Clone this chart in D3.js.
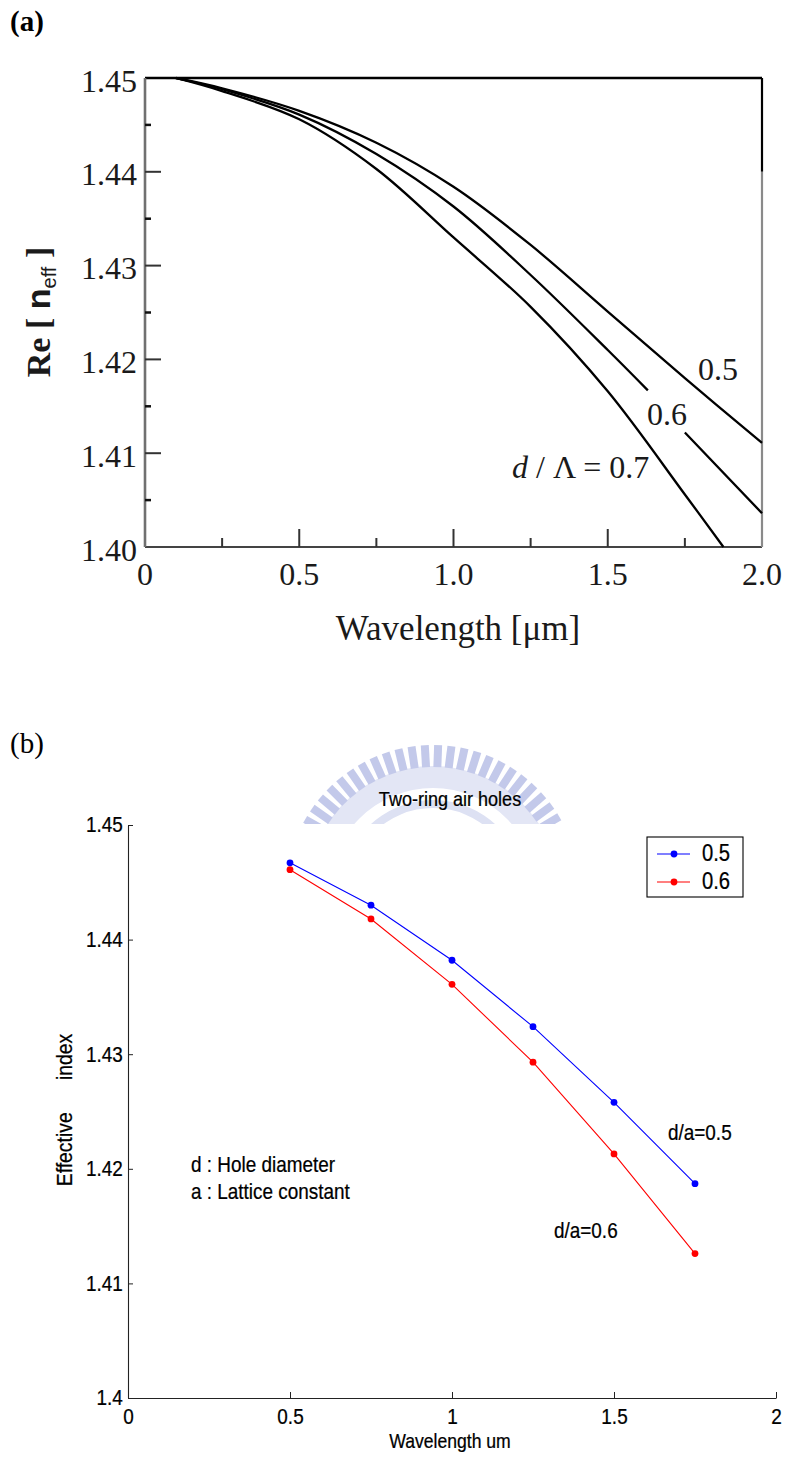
<!DOCTYPE html>
<html><head><meta charset="utf-8">
<script src="https://cdn.jsdelivr.net/npm/d3@7"></script>
<style>body{margin:0;background:#fff}svg{display:block}</style>
</head><body>
<script>
// ---- Panel (a): Re[n_eff] versus wavelength, d/Λ = 0.5, 0.6, 0.7 ----
const waveA05 = [0.1, 0.25, 0.5, 0.75, 1.0, 1.25, 1.5, 1.75, 2.0];
const neffA05 = [1.4500, 1.4489, 1.4465, 1.4431, 1.4384, 1.4322, 1.4251, 1.4180, 1.4111];
// null leaves room for the "0.6" label on that curve
const waveA06 = [0.1, 0.25, 0.5, 0.75, 1.0, 1.25, 1.5, 1.63, 1.69, 1.75, 2.0];
const neffA06 = [1.4500, 1.4488, 1.4461, 1.4419, 1.4363, 1.4290, 1.4210, 1.4167, null, 1.4122, 1.4036];
const waveA07 = [0.1, 0.25, 0.5, 0.75, 1.0, 1.25, 1.5, 1.75, 1.875];
const neffA07 = [1.4500, 1.4486, 1.4456, 1.4403, 1.4330, 1.4256, 1.4166, 1.4056, 1.4000];
const yTicksA = [1.40, 1.41, 1.42, 1.43, 1.44, 1.45];
const yMinorA = [1.405, 1.415, 1.425, 1.435, 1.445];
const xTicksA = [0, 0.5, 1.0, 1.5, 2.0];
const xMinorA = [0.25, 0.75, 1.25, 1.75];

// ---- Panel (b): two-ring air holes ----
const waveB = [0.5, 0.75, 1.0, 1.25, 1.5, 1.75];
const neffB05 = [1.4467, 1.4430, 1.4382, 1.4324, 1.4258, 1.4187];
const neffB06 = [1.4461, 1.4418, 1.4361, 1.4293, 1.4213, 1.4126];
const seriesB = [
  {name: "0.5", values: neffB05, color: "#0000ff"},
  {name: "0.6", values: neffB06, color: "#ff0000"}
];
const yTicksB = [1.40, 1.41, 1.42, 1.43, 1.44, 1.45];
const xTicksB = [0, 0.5, 1, 1.5, 2];

const W = 788, H = 1459;
const svg = d3.select("body").append("svg").attr("width", W).attr("height", H)
  .style("background", "#fff");

const serif = "'Liberation Serif','Times New Roman',serif";
const sans = "'Liberation Sans',Arial,Helvetica,sans-serif";

// =================== Panel (a) ===================
const gA = svg.append("g");
const xA = d3.scaleLinear().domain([0, 2]).range([145, 762]);
const yA = d3.scaleLinear().domain([1.40, 1.45]).range([547, 78]);

gA.append("text").attr("x", 10).attr("y", 31)
  .attr("font-family", serif).attr("font-weight", "bold").attr("font-size", 29)
  .text("(a)");

// frame
const [ax0, ax1] = xA.range();
const [ay1, ay0] = yA.range();
gA.append("line").attr("x1", ax0).attr("x2", ax1).attr("y1", ay0).attr("y2", ay0)
  .attr("stroke", "#000").attr("stroke-width", 2.5);
gA.append("line").attr("x1", ax0).attr("x2", ax1).attr("y1", ay1).attr("y2", ay1)
  .attr("stroke", "#444").attr("stroke-width", 2.2);
gA.append("line").attr("x1", ax0).attr("x2", ax0).attr("y1", ay0).attr("y2", ay1)
  .attr("stroke", "#707070").attr("stroke-width", 2.6);
gA.append("line").attr("x1", ax1).attr("x2", ax1).attr("y1", ay0).attr("y2", yA(1.44))
  .attr("stroke", "#000").attr("stroke-width", 2.2);
gA.append("line").attr("x1", ax1).attr("x2", ax1).attr("y1", yA(1.44)).attr("y2", ay1)
  .attr("stroke", "#8a8a8a").attr("stroke-width", 2.2);

// ticks
gA.selectAll(".ymaj").data(yTicksA.slice(1, -1)).join("line")
  .attr("x1", ax0).attr("x2", ax0 + 16).attr("y1", d => yA(d)).attr("y2", d => yA(d))
  .attr("stroke", "#333").attr("stroke-width", 2);
gA.selectAll(".ymin").data(yMinorA).join("line")
  .attr("x1", ax0).attr("x2", ax0 + 6).attr("y1", d => yA(d)).attr("y2", d => yA(d))
  .attr("stroke", "#111").attr("stroke-width", 2.5);
gA.selectAll(".xmaj").data(xTicksA.slice(1, -1)).join("line")
  .attr("x1", d => xA(d)).attr("x2", d => xA(d)).attr("y1", ay1).attr("y2", ay1 - 18)
  .attr("stroke", "#333").attr("stroke-width", 2);
gA.selectAll(".xmin").data(xMinorA).join("line")
  .attr("x1", d => xA(d)).attr("x2", d => xA(d)).attr("y1", ay1).attr("y2", ay1 - 9)
  .attr("stroke", "#333").attr("stroke-width", 2);

// tick labels
gA.selectAll(".ylab").data(yTicksA).join("text")
  .attr("x", ax0 - 8).attr("y", d => yA(d) + 13.5)
  .attr("text-anchor", "end").attr("font-family", serif).attr("font-size", 32)
  .attr("fill", "#1a1a1a").text(d => d3.format(".2f")(d));
gA.selectAll(".xlab").data(xTicksA).join("text")
  .attr("x", d => xA(d)).attr("y", 585)
  .attr("text-anchor", "middle").attr("font-family", serif).attr("font-size", 32)
  .attr("fill", "#1a1a1a").text(d => d === 0 ? "0" : d3.format(".1f")(d));

// axis titles
gA.append("text").attr("x", 458).attr("y", 640).attr("text-anchor", "middle")
  .attr("font-family", serif).attr("font-size", 35).attr("fill", "#1a1a1a")
  .text("Wavelength [\u03bcm]");
const yt = gA.append("text").attr("transform", "translate(50,312) rotate(-90)")
  .attr("text-anchor", "middle").attr("font-family", serif).attr("font-weight", "bold")
  .attr("font-size", 34).attr("fill", "#1a1a1a");
yt.append("tspan").text("Re [ ");
yt.append("tspan").attr("font-family", sans).text("n");
yt.append("tspan").attr("font-family", sans).attr("font-weight", "normal")
  .attr("font-size", 20).attr("dy", 6).text("eff");
yt.append("tspan").attr("dy", -6).text(" ]");

// curves
const lineA = d3.line().defined(d => d[1] != null)
  .x(d => xA(d[0])).y(d => yA(d[1])).curve(d3.curveCatmullRom.alpha(0.5));
[[waveA05, neffA05], [waveA06, neffA06], [waveA07, neffA07]].forEach(([w, n]) => {
  gA.append("path").datum(d3.zip(w, n)).attr("d", lineA)
    .attr("fill", "none").attr("stroke", "#000").attr("stroke-width", 2.3);
});

// curve labels
gA.append("text").attr("x", 698).attr("y", 380).attr("font-family", serif)
  .attr("font-size", 32).attr("fill", "#1a1a1a").text("0.5");
gA.append("text").attr("x", 647).attr("y", 425).attr("font-family", serif)
  .attr("font-size", 32).attr("fill", "#1a1a1a").text("0.6");
const l7 = gA.append("text").attr("x", 512).attr("y", 478).attr("font-family", serif)
  .attr("font-size", 32).attr("fill", "#1a1a1a");
l7.append("tspan").attr("font-style", "italic").text("d");
l7.append("tspan").text(" / \u039b = 0.7");

// =================== Panel (b) ===================
const gB = svg.append("g");
const xB = d3.scaleLinear().domain([0, 2]).range([128, 776]);
const yB = d3.scaleLinear().domain([1.40, 1.45]).range([1398, 825]);

gB.append("text").attr("x", 10).attr("y", 753)
  .attr("font-family", serif).attr("font-size", 29).text("(b)");

// faint emblem behind the title, cut off by the axes area
const defs = svg.append("defs");
defs.append("clipPath").attr("id", "emblemClip").append("rect")
  .attr("x", 0).attr("y", 700).attr("width", W).attr("height", yB(1.45) - 701);
const emb = gB.append("g").attr("clip-path", "url(#emblemClip)")
  .append("g").attr("transform", "translate(433,892)");
emb.append("path")
  .attr("d", d3.arc().innerRadius(104).outerRadius(126).startAngle(0).endAngle(2 * Math.PI)())
  .attr("fill", "#e3e6f5");
const teeth = d3.range(-180, 180, 5.2);
emb.selectAll(".tooth").data(teeth).join("rect")
  .attr("x", -4).attr("y", -147).attr("width", 8).attr("height", 22)
  .attr("transform", d => `rotate(${d})`)
  .attr("fill", "#c3c9ea");
emb.append("path")
  .attr("d", d3.arc().innerRadius(84).outerRadius(92).startAngle(0).endAngle(2 * Math.PI)())
  .attr("fill", "#dde1f3");

// sans text with a slightly narrow, tall face
const SX = 0.88;
function label(g, x, y, str, size, anchor) {
  return g.append("text").attr("transform", `translate(${x},${y}) scale(${SX},1)`)
    .attr("text-anchor", anchor || "start").attr("font-family", sans)
    .attr("font-size", size).attr("fill", "#000")
    .attr("stroke", "#000").attr("stroke-width", 0.25).text(str);
}

label(gB, 450, 806, "Two-ring air holes", 20.5, "middle");

// axes
const axLeft = d3.axisLeft(yB).tickValues(yTicksB)
  .tickFormat(d => d3.format("~g")(+d.toFixed(2)))
  .tickSizeInner(-5).tickSizeOuter(0).tickPadding(6);
const axBottom = d3.axisBottom(xB).tickValues(xTicksB)
  .tickFormat(d => d3.format("~g")(d))
  .tickSizeInner(-6).tickSizeOuter(0).tickPadding(11);
const gl = gB.append("g").attr("transform", `translate(${xB(0)},0)`).call(axLeft);
const gb = gB.append("g").attr("transform", `translate(0,${yB(1.40)})`).call(axBottom);
[gl, gb].forEach(g => {
  g.select(".domain").attr("stroke", "#222").attr("stroke-width", 1.1);
  g.selectAll(".tick line").attr("stroke", "#222");
  g.selectAll(".tick text").attr("font-family", sans).attr("font-size", 21.5)
    .attr("fill", "#000").attr("stroke", "#000").attr("stroke-width", 0.25)
    .attr("transform", `scale(${SX},1)`);
});

label(gB, 450, 1448, "Wavelength um", 20, "middle");
gB.append("text").attr("transform", `translate(72,1110) rotate(-90) scale(${SX},1)`)
  .attr("text-anchor", "middle").attr("font-family", sans).attr("font-size", 22)
  .attr("stroke", "#000").attr("stroke-width", 0.25)
  .style("white-space", "pre").text("Effective      index");

// series
const lineB = d3.line().x(d => xB(d[0])).y(d => yB(d[1]));
seriesB.forEach(s => {
  const pts = d3.zip(waveB, s.values);
  gB.append("path").datum(pts).attr("d", lineB)
    .attr("fill", "none").attr("stroke", s.color).attr("stroke-width", 1.1);
  gB.selectAll(null).data(pts).join("circle")
    .attr("cx", d => xB(d[0])).attr("cy", d => yB(d[1])).attr("r", 3.4)
    .attr("fill", s.color);
});

// annotations
label(gB, 191, 1172, "d : Hole diameter", 21.5);
label(gB, 191, 1199, "a : Lattice constant", 21.5);
label(gB, 668, 1140, "d/a=0.5", 21.5);
label(gB, 554, 1238, "d/a=0.6", 21.5);

// legend
const lg = gB.append("g").attr("transform", "translate(647,837)");
lg.append("rect").attr("width", 96).attr("height", 60)
  .attr("fill", "#fff").attr("stroke", "#000").attr("stroke-width", 1.1);
seriesB.forEach((s, i) => {
  const y = 17 + i * 28;
  lg.append("line").attr("x1", 10).attr("x2", 43).attr("y1", y).attr("y2", y)
    .attr("stroke", s.color).attr("stroke-width", 1.1);
  lg.append("circle").attr("cx", 27).attr("cy", y).attr("r", 3.4).attr("fill", s.color);
  label(lg, 55, y + 7, s.name, 23);
});
</script>
</body></html>
